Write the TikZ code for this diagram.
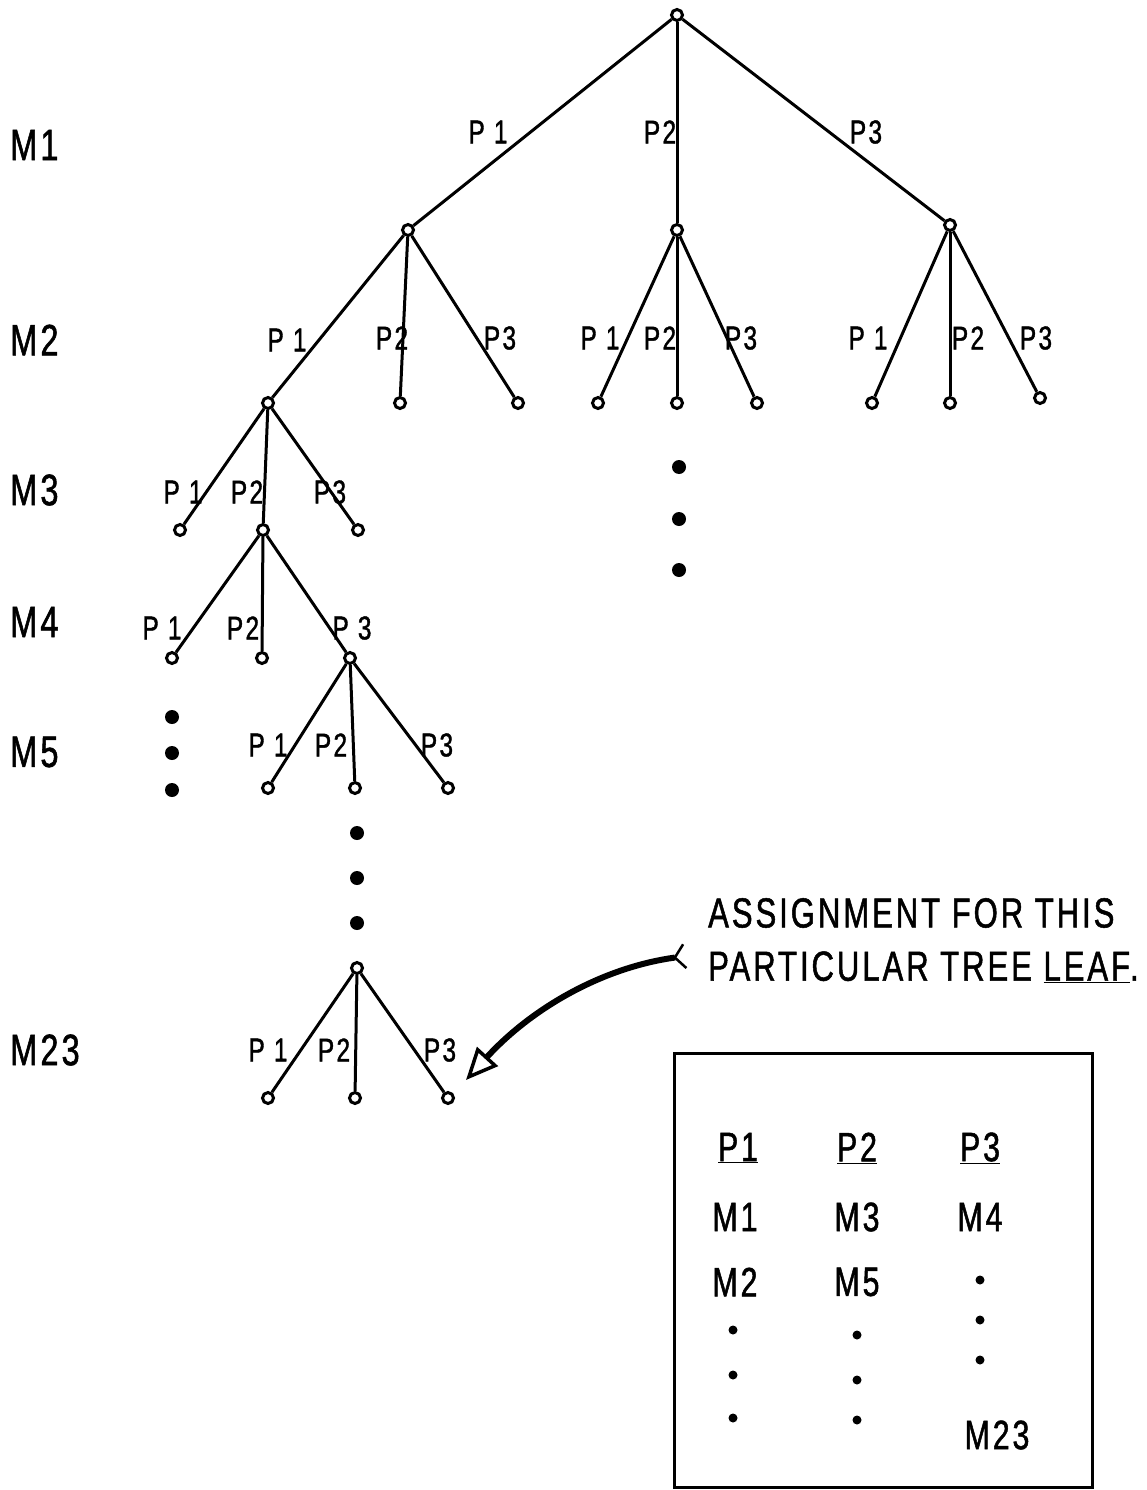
\documentclass[tikz,border=0pt]{standalone}
\usepackage{fontspec}
\setmainfont[FakeStretch=0.74,LetterSpace=7,FakeBold=1.2]{Liberation Sans}
\usetikzlibrary{arrows.meta}
\begin{document}
\begin{tikzpicture}[x=1pt,y=-1pt,
  vtx/.style={circle,draw,line width=3pt,inner sep=0pt,minimum size=11pt,fill=white},
  bigdot/.style={circle,fill,inner sep=0pt,minimum size=14pt},
  smalldot/.style={circle,fill,inner sep=0pt,minimum size=9pt},
  edge/.style={line width=3pt},
  lbl/.style={font=\fontsize{33}{33}\selectfont,inner sep=0pt},
  lvl/.style={font=\fontsize{44}{44}\selectfont,inner sep=0pt,anchor=west},
  note/.style={font=\fontsize{42}{42}\selectfont,inner sep=0pt,anchor=west},
  tab/.style={font=\fontsize{41}{41}\selectfont,inner sep=0pt}]
\useasboundingbox[fill=white] (0,0) rectangle (1147,1490);

% level labels
\node[lvl] (m1)  at (10,145)  {M1};
\node[lvl] (m2)  at (10,340)  {M2};
\node[lvl] (m3)  at (10,490)  {M3};
\node[lvl] (m4)  at (10,622)  {M4};
\node[lvl] (m5)  at (10,752)  {M5};
\node[lvl] (m23) at (10,1050) {M23};

% vertices
\node[vtx] (r)   at (677,15)  {};
\node[vtx] (a1)  at (408,230) {};
\node[vtx] (a2)  at (677,230) {};
\node[vtx] (a3)  at (950,225) {};
\node[vtx] (b11) at (268,403) {};
\node[vtx] (b12) at (400,403) {};
\node[vtx] (b13) at (518,403) {};
\node[vtx] (b21) at (598,403) {};
\node[vtx] (b22) at (677,403) {};
\node[vtx] (b23) at (757,403) {};
\node[vtx] (b31) at (872,403) {};
\node[vtx] (b32) at (950,403) {};
\node[vtx] (b33) at (1040,398) {};
\node[vtx] (c1)  at (180,530) {};
\node[vtx] (c2)  at (263,530) {};
\node[vtx] (c3)  at (358,530) {};
\node[vtx] (d1)  at (172,658) {};
\node[vtx] (d2)  at (262,658) {};
\node[vtx] (d3)  at (350,658) {};
\node[vtx] (e1)  at (268,788) {};
\node[vtx] (e2)  at (355,788) {};
\node[vtx] (e3)  at (448,788) {};
\node[vtx] (f)   at (357,968) {};
\node[vtx] (g1)  at (268,1098) {};
\node[vtx] (g2)  at (355,1098) {};
\node[vtx] (g3)  at (448,1098) {};

% edges
\foreach \p/\c in {r/a1,r/a2,r/a3,a1/b11,a1/b12,a1/b13,a2/b21,a2/b22,a2/b23,
  a3/b31,a3/b32,a3/b33,b11/c1,b11/c2,b11/c3,c2/d1,c2/d2,c2/d3,d3/e1,d3/e2,d3/e3,
  f/g1,f/g2,f/g3}
  \draw[edge] (\p) -- (\c);

% continuation dots
\node[bigdot] (u1) at (679,467) {};
\node[bigdot] (u2) at (679,519) {};
\node[bigdot] (u3) at (679,570) {};
\node[bigdot] (v1) at (172,717) {};
\node[bigdot] (v2) at (172,753) {};
\node[bigdot] (v3) at (172,790) {};
\node[bigdot] (w1) at (357,833) {};
\node[bigdot] (w2) at (357,878) {};
\node[bigdot] (w3) at (357,923) {};

% edge labels
\node[lbl] at (488,132) {P 1};
\node[lbl] at (660,132) {P2};
\node[lbl] at (866,132) {P3};
\node[lbl] at (287,340) {P 1};
\node[lbl] at (392,338) {P2};
\node[lbl] at (500,338) {P3};
\node[lbl] at (600,338) {P 1};
\node[lbl] at (660,338) {P2};
\node[lbl] at (741,338) {P3};
\node[lbl] at (868,338) {P 1};
\node[lbl] at (968,338) {P2};
\node[lbl] at (1036,338) {P3};
\node[lbl] at (183,492) {P 1};
\node[lbl] at (247,492) {P2};
\node[lbl] at (330,492) {P3};
\node[lbl] at (162,628) {P 1};
\node[lbl] at (243,628) {P2};
\node[lbl] at (352,628) {P 3};
\node[lbl] at (268,745) {P 1};
\node[lbl] at (331,745) {P2};
\node[lbl] at (437,745) {P3};
\node[lbl] at (268,1050) {P 1};
\node[lbl] at (334,1050) {P2};
\node[lbl] at (440,1050) {P3};

% annotation
\node[note] (n1) at (708,913) {ASSIGNMENT FOR THIS};
\node[note] (n2) at (708,967) {PARTICULAR TREE \underline{LEAF}.};
\coordinate (tailpt) at (686,956);
\coordinate (headpt) at (466,1080);
\draw[line width=6pt,{Straight Barb[reversed,length=10pt,width=24pt,line width=2.5pt]}-{Triangle[open,length=32pt,width=28pt,line width=3.5pt]}]
  (tailpt) .. controls (600,968) and (530,1010) .. (headpt);

% table box
\draw[line width=3pt] (674,1487) -- (674,1053) -- (1092,1053) -- (1092,1487) -- cycle;
\node[tab] (h1) at (738,1148) {\underline{P1}};
\node[tab] (h2) at (857,1148) {\underline{P2}};
\node[tab] (h3) at (980,1148) {\underline{P3}};
\node[tab] (t11) at (735,1217) {M1};
\node[tab] (t12) at (857,1217) {M3};
\node[tab] (t13) at (980,1217) {M4};
\node[tab] (t21) at (735,1282) {M2};
\node[tab] (t22) at (857,1282) {M5};
\node[smalldot] at (980,1280) {};
\node[smalldot] at (980,1320) {};
\node[smalldot] at (980,1360) {};
\node[smalldot] at (733,1330) {};
\node[smalldot] at (733,1375) {};
\node[smalldot] at (733,1418) {};
\node[smalldot] at (857,1335) {};
\node[smalldot] at (857,1380) {};
\node[smalldot] at (857,1420) {};
\node[tab] (t43) at (997,1435) {M23};
\end{tikzpicture}
\end{document}
